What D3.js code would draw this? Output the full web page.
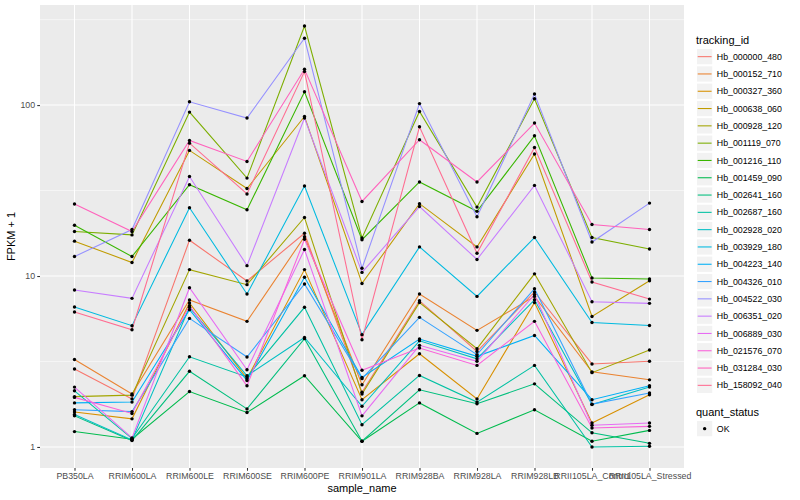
<!DOCTYPE html>
<meta charset="utf-8">
<style>
body { margin: 0; background: #fff; }
text { font-family: "Liberation Sans", Arial, sans-serif; }
.grid-major { stroke: #fff; stroke-width: 1.07; }
.grid-minor { stroke: #fff; stroke-width: 0.53; }
.axis text { fill: #4d4d4d; font-size: 8.8px; }
.axis line { stroke: #333; stroke-width: 1.07; }
.axis path { display: none; }
</style>
<svg width="800" height="500"></svg>
<script src="https://d3js.org/d3.v7.min.js"></script>
<script>

var samples = ["PB350LA", "RRIM600LA", "RRIM600LE", "RRIM600SE", "RRIM600PE", "RRIM901LA",
  "RRIM928BA", "RRIM928LA", "RRIM928LB", "RRII105LA_Control", "RRII105LA_Stressed"];

var trackingIds = ["Hb_000000_480", "Hb_000152_710", "Hb_000327_360", "Hb_000638_060", "Hb_000928_120",
  "Hb_001119_070", "Hb_001216_110", "Hb_001459_090", "Hb_002641_160", "Hb_002687_160",
  "Hb_002928_020", "Hb_003929_180", "Hb_004223_140", "Hb_004326_010", "Hb_004522_030",
  "Hb_006351_020", "Hb_006889_030", "Hb_021576_070", "Hb_031284_030", "Hb_158092_040"];

var colors = ["#F8766D", "#EA8331", "#D89000", "#C09B00", "#A3A500", "#7CAE00", "#39B600", "#00BB4E",
  "#00BF7D", "#00C1A3", "#00BFC4", "#00BAE0", "#00B0F6", "#35A2FF", "#9590FF", "#C77CFF",
  "#E76BF3", "#FA62DB", "#FF62BC", "#FF6C91"];

// FPKM + 1, one value per sample, in sample order
var Hb_000000_480 = [2.86, 1.91, 16.2, 9.35, 17.8, 2.09, 7.17, 3.62, 8.07, 3.06, 3.17];
var Hb_000152_710 = [3.25, 2.04, 7.24, 5.43, 17.0, 2.31, 7.85, 4.81, 7.6, 2.75, 2.47];
var Hb_000327_360 = [1.60, 1.46, 6.95, 2.51, 10.9, 1.89, 3.51, 1.91, 6.99, 1.38, 2.02];
var Hb_000638_060 = [16.0, 12.0, 54.3, 32.5, 85.7, 9.05, 26.5, 14.8, 51.7, 5.8, 9.39];
var Hb_000928_120 = [1.97, 2.01, 10.9, 8.9, 22.0, 2.04, 6.99, 3.76, 10.3, 2.72, 3.69];
var Hb_001119_070 = [18.2, 17.4, 91, 37.4, 290, 16.7, 91.8, 25.3, 109, 16.8, 14.4];
var Hb_001216_110 = [19.8, 13.0, 34.2, 24.4, 119.6, 16.3, 35.5, 23.9, 66.1, 9.73, 9.6];
var Hb_001459_090 = [1.23, 1.11, 2.11, 1.59, 2.61, 1.08, 1.81, 1.20, 1.65, 1.08, 1.25];
var Hb_002641_160 = [1.52, 1.09, 2.77, 1.67, 4.30, 1.08, 2.16, 1.79, 2.34, 1.21, 1.05];
var Hb_002687_160 = [2.13, 1.12, 3.37, 2.57, 6.56, 1.35, 2.62, 1.83, 3.0, 1.0, 1.01];
var Hb_002928_020 = [1.55, 1.10, 6.56, 2.61, 4.37, 1.73, 4.18, 3.28, 7.26, 1.77, 2.24];
var Hb_003929_180 = [6.59, 5.12, 25.1, 7.85, 33.6, 4.54, 14.8, 7.6, 16.8, 5.35, 5.14];
var Hb_004223_140 = [1.81, 1.83, 6.35, 2.45, 9.84, 2.55, 4.28, 3.39, 4.49, 1.89, 2.28];
var Hb_004326_010 = [1.65, 1.61, 5.65, 3.36, 8.98, 2.51, 5.73, 3.47, 8.43, 1.78, 2.07];
var Hb_004522_030 = [13.0, 18.7, 104.5, 84, 246, 11.1, 102, 22.2, 116, 15.8, 26.7];
var Hb_006351_020 = [8.28, 7.4, 38.2, 11.5, 84, 10.5, 25.5, 12.5, 33.9, 7.07, 6.92];
var Hb_006889_030 = [2.24, 1.13, 8.54, 2.83, 14.3, 1.52, 3.93, 3.17, 7.8, 1.34, 1.38];
var Hb_021576_070 = [1.95, 1.57, 6.70, 2.28, 16.4, 2.81, 3.79, 3.0, 5.43, 1.29, 1.32];
var Hb_031284_030 = [26.4, 18.2, 62.1, 46.8, 162, 27.3, 62.7, 35.5, 78.5, 20.0, 18.7];
var Hb_158092_040 = [6.16, 4.85, 59.9, 30.2, 157, 4.24, 74.7, 13.6, 56.5, 9.22, 7.33];

var seriesValues = [Hb_000000_480, Hb_000152_710, Hb_000327_360, Hb_000638_060, Hb_000928_120,
  Hb_001119_070, Hb_001216_110, Hb_001459_090, Hb_002641_160, Hb_002687_160,
  Hb_002928_020, Hb_003929_180, Hb_004223_140, Hb_004326_010, Hb_004522_030,
  Hb_006351_020, Hb_006889_030, Hb_021576_070, Hb_031284_030, Hb_158092_040];

var yTicks = [1, 10, 100];
var yMinor = [Math.sqrt(10), Math.sqrt(1000), Math.sqrt(100000)];

var svg = d3.select("svg"),
    panel = {left: 40, top: 5, right: 684, bottom: 468};

var series = trackingIds.map(function(id, i) {
  return {id: id, color: colors[i], values: samples.map(function(s, j) { return {sample: s, v: seriesValues[i][j]}; })};
});

// discrete x with ggplot's 0.6 unit expansion
var step = (panel.right - panel.left) / (samples.length - 1 + 1.2);
var x = d3.scalePoint().domain(samples)
  .range([panel.left + 0.6 * step, panel.right - 0.6 * step]);

// log10 y with 5% expansion
var all = [].concat.apply([], seriesValues);
var lo = Math.log10(d3.min(all)), hi = Math.log10(d3.max(all)), pad = (hi - lo) * 0.05;
var y = d3.scaleLog().domain([Math.pow(10, lo - pad), Math.pow(10, hi + pad)])
  .range([panel.bottom, panel.top]);

svg.append("rect")
  .attr("x", panel.left).attr("y", panel.top)
  .attr("width", panel.right - panel.left).attr("height", panel.bottom - panel.top)
  .attr("fill", "#ebebeb");

var grid = svg.append("g");
grid.selectAll(".minor").data(yMinor.filter(function(d) { return d > y.domain()[0] && d < y.domain()[1]; }))
  .enter().append("line").attr("class", "grid-minor")
  .attr("x1", panel.left).attr("x2", panel.right)
  .attr("y1", function(d) { return y(d); }).attr("y2", function(d) { return y(d); });
grid.selectAll(".hmaj").data(yTicks)
  .enter().append("line").attr("class", "grid-major")
  .attr("x1", panel.left).attr("x2", panel.right)
  .attr("y1", function(d) { return y(d); }).attr("y2", function(d) { return y(d); });
grid.selectAll(".vmaj").data(samples)
  .enter().append("line").attr("class", "grid-major")
  .attr("x1", function(d) { return x(d); }).attr("x2", function(d) { return x(d); })
  .attr("y1", panel.top).attr("y2", panel.bottom);

var line = d3.line()
  .x(function(d) { return x(d.sample); })
  .y(function(d) { return y(d.v); });

svg.append("g").selectAll("path")
  .data(series)
  .enter().append("path")
    .attr("d", function(d) { return line(d.values); })
    .attr("fill", "none")
    .attr("stroke", function(d) { return d.color; })
    .attr("stroke-width", 1.07);

svg.append("g").selectAll("g")
  .data(series)
  .enter().append("g")
  .selectAll("circle")
  .data(function(d) { return d.values; })
  .enter().append("circle")
    .attr("cx", function(d) { return x(d.sample); })
    .attr("cy", function(d) { return y(d.v); })
    .attr("r", 1.7)
    .attr("fill", "#000");

// axes
svg.append("g")
  .attr("class", "axis")
  .attr("transform", "translate(0," + panel.bottom + ")")
  .call(d3.axisBottom(x).tickSize(2.75).tickPadding(2.5));

svg.append("g")
  .attr("class", "axis")
  .attr("transform", "translate(" + panel.left + ",0)")
  .call(d3.axisLeft(y).tickValues(yTicks).tickFormat(d3.format("d")).tickSize(2.75).tickPadding(2.2));

svg.append("text")
  .attr("x", (panel.left + panel.right) / 2).attr("y", 492)
  .attr("text-anchor", "middle").attr("font-size", 11).attr("fill", "#000")
  .text("sample_name");

svg.append("text")
  .attr("transform", "translate(15," + (panel.top + panel.bottom) / 2 + ") rotate(-90)")
  .attr("text-anchor", "middle").attr("font-size", 11).attr("fill", "#000")
  .text("FPKM + 1");

// legend: tracking_id
var leg = svg.append("g").attr("transform", "translate(696,0)");
leg.append("text").attr("x", 0).attr("y", 44).attr("font-size", 11).text("tracking_id");

var keySize = 17.3, keyTop = 48;
var keys = leg.selectAll(".key").data(series)
  .enter().append("g")
  .attr("transform", function(d, i) { return "translate(0," + (keyTop + i * keySize) + ")"; });
keys.append("rect").attr("x", 0.5).attr("y", 0.5)
  .attr("width", keySize - 1).attr("height", keySize - 1)
  .attr("fill", "#f2f2f2").attr("stroke", "#fff");
keys.append("line")
  .attr("x1", 1.7).attr("x2", keySize - 1.7)
  .attr("y1", keySize / 2).attr("y2", keySize / 2)
  .attr("stroke", function(d) { return d.color; }).attr("stroke-width", 1.07);
keys.append("text")
  .attr("x", keySize + 3.5).attr("y", keySize / 2 + 3.1)
  .attr("font-size", 8.8).attr("fill", "#000")
  .text(function(d) { return d.id; });

// legend: quant_status
var leg2 = svg.append("g").attr("transform", "translate(696,0)");
leg2.append("text").attr("x", 0).attr("y", 416).attr("font-size", 11).text("quant_status");
leg2.append("rect").attr("x", 0.5).attr("y", 420.5)
  .attr("width", keySize - 1).attr("height", keySize - 1)
  .attr("fill", "#f2f2f2").attr("stroke", "#fff");
leg2.append("circle").attr("cx", keySize / 2).attr("cy", 420 + keySize / 2).attr("r", 1.7).attr("fill", "#000");
leg2.append("text").attr("x", keySize + 3.5).attr("y", 420 + keySize / 2 + 3.1)
  .attr("font-size", 8.8).attr("fill", "#000").text("OK");

</script>
